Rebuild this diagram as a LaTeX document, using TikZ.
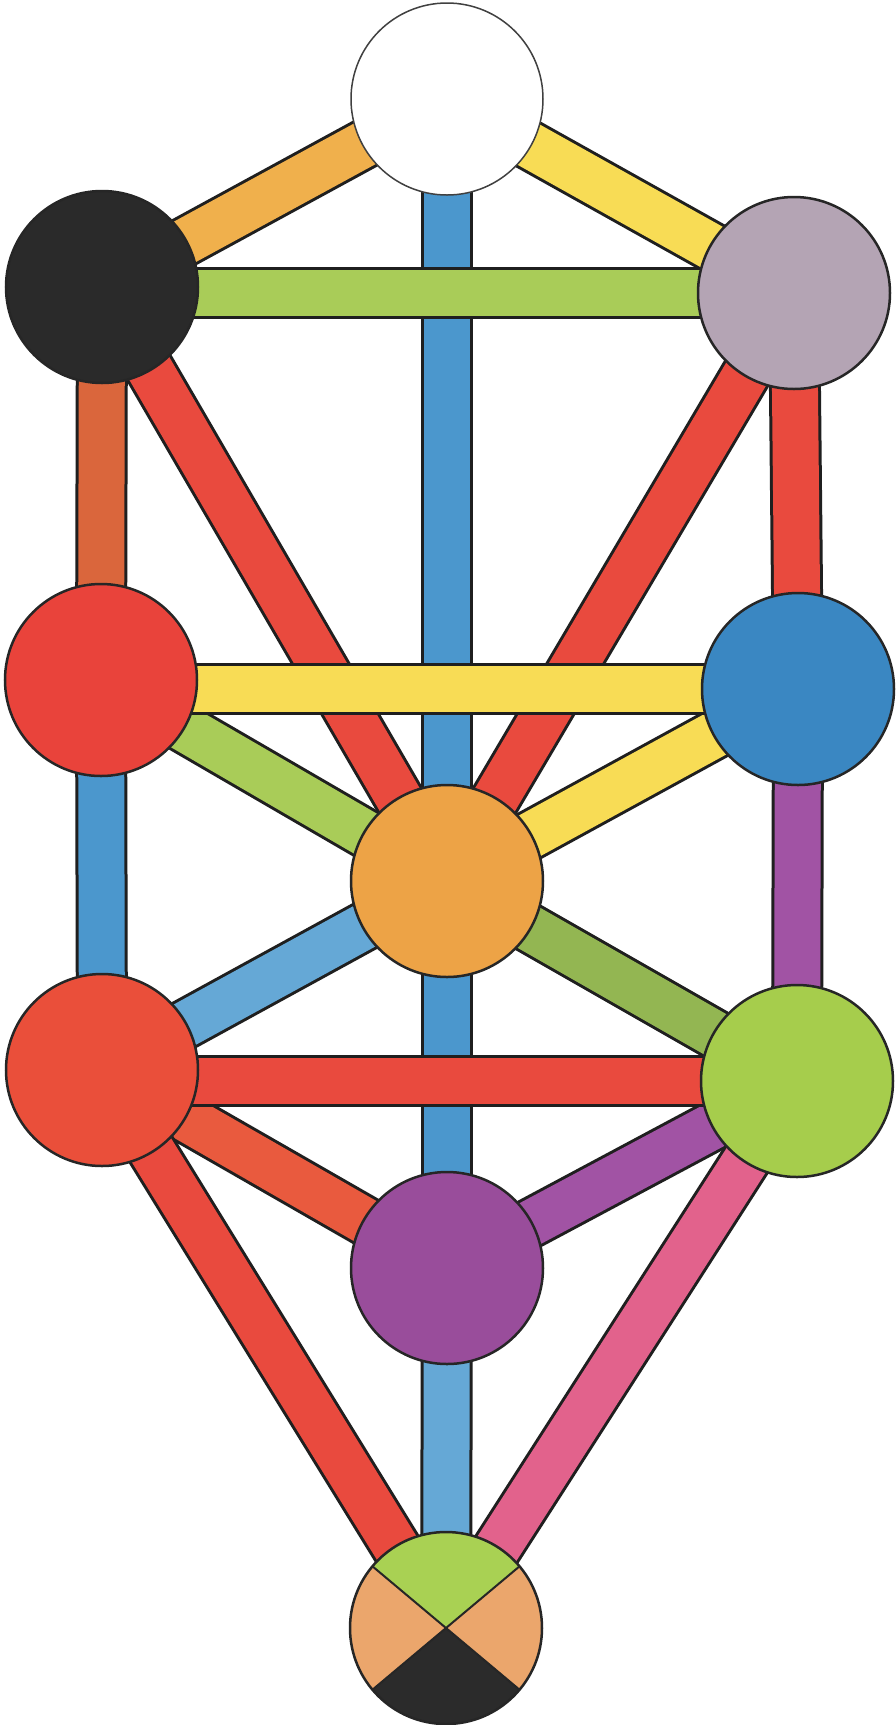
\documentclass[tikz,border=0pt]{standalone}
\usetikzlibrary{backgrounds}
\definecolor{cKether}{HTML}{FFFFFF}
\definecolor{cBinah}{HTML}{2A2A2A}
\definecolor{cChokmah}{HTML}{B4A4B4}
\definecolor{cGeburah}{HTML}{E9433B}
\definecolor{cChesed}{HTML}{3A87C2}
\definecolor{cTiph}{HTML}{EDA346}
\definecolor{cHod}{HTML}{EA4F3A}
\definecolor{cNetzach}{HTML}{A6CD4C}
\definecolor{cYesod}{HTML}{994D9B}
\definecolor{mGreen}{HTML}{A9D153}
\definecolor{mTan}{HTML}{EBA66C}
\definecolor{mBlack}{HTML}{2B2B2B}
\definecolor{pOrange}{HTML}{F0B04C}
\definecolor{pYellow}{HTML}{F8DC55}
\definecolor{pBlue}{HTML}{4B97CD}
\definecolor{pLightBlue}{HTML}{65A8D6}
\definecolor{pGreen}{HTML}{A9CC58}
\definecolor{pOlive}{HTML}{93B652}
\definecolor{pRed}{HTML}{E94A3E}
\definecolor{pRust}{HTML}{DA663C}
\definecolor{pRedOrange}{HTML}{E95A3E}
\definecolor{pPurple}{HTML}{A153A4}
\definecolor{pPink}{HTML}{E2628C}
\newcommand\tpath[3]{%
  \draw[line width=52pt,black!88] (#1.center)--(#2.center);
  \draw[line width=46pt,#3] (#1.center)--(#2.center);}
\newcommand\hpath[3]{%
  \draw[line width=52pt,black!88] (#1.center |- #2.center)--(#2.center);
  \draw[line width=46pt,#3] (#1.center |- #2.center)--(#2.center);}
\begin{document}
\begin{tikzpicture}[x=1pt,y=1pt,
  sephira/.style={circle,draw=black!85,line width=2.5pt,minimum size=192pt,inner sep=0pt}]
\useasboundingbox (0,0) rectangle (896,-1725);
% Sephiroth
\node[sephira,fill=cKether,draw=black!75,line width=1.5pt] (kether) at (447,-99) {};
\node[sephira,fill=cBinah] (binah) at (102,-287) {};
\node[sephira,fill=cChokmah] (chokmah) at (794,-293) {};
\node[sephira,fill=cGeburah] (geburah) at (101,-680) {};
\node[sephira,fill=cChesed] (chesed) at (798,-689) {};
\node[sephira,fill=cTiph] (tiph) at (447,-881) {};
\node[sephira,fill=cHod] (hod) at (102,-1070) {};
\node[sephira,fill=cNetzach] (netzach) at (797,-1081) {};
\node[sephira,fill=cYesod] (yesod) at (447,-1268) {};
\node[sephira,path picture={
   \coordinate (mc) at (path picture bounding box.center);
   \fill[mGreen] (mc) -- ++(40:110) arc[start angle=40,end angle=140,radius=110] -- cycle;
   \fill[mTan] (mc) -- ++(140:110) arc[start angle=140,end angle=220,radius=110] -- cycle;
   \fill[mBlack] (mc) -- ++(220:110) arc[start angle=220,end angle=320,radius=110] -- cycle;
   \fill[mTan] (mc) -- ++(320:110) arc[start angle=320,end angle=400,radius=110] -- cycle;
   \draw[black!85,line width=2pt] (mc) ++(40:110) -- ++(220:220);
   \draw[black!85,line width=2pt] (mc) ++(140:110) -- ++(320:220);
  }] (malkuth) at (446,-1628) {};
% Paths
\begin{scope}[on background layer]
\fill[white] (0,0) rectangle (896,-1725);
\tpath{kether}{binah}{pOrange}
\tpath{kether}{chokmah}{pYellow}
\tpath{binah}{geburah}{pRust}
\tpath{chokmah}{chesed}{pRed}
\tpath{geburah}{tiph}{pGreen}
\tpath{chesed}{tiph}{pYellow}
\tpath{binah}{tiph}{pRed}
\tpath{chokmah}{tiph}{pRed}
\tpath{kether}{tiph}{pBlue}
\hpath{binah}{chokmah}{pGreen}
\hpath{geburah}{chesed}{pYellow}
\tpath{geburah}{hod}{pBlue}
\tpath{chesed}{netzach}{pPurple}
\tpath{hod}{tiph}{pLightBlue}
\tpath{netzach}{tiph}{pOlive}
\tpath{tiph}{yesod}{pBlue}
\tpath{hod}{yesod}{pRedOrange}
\tpath{netzach}{yesod}{pPurple}
\hpath{hod}{netzach}{pRed}
\tpath{hod}{malkuth}{pRed}
\tpath{netzach}{malkuth}{pPink}
\tpath{yesod}{malkuth}{pLightBlue}
\end{scope}
\end{tikzpicture}
\end{document}
